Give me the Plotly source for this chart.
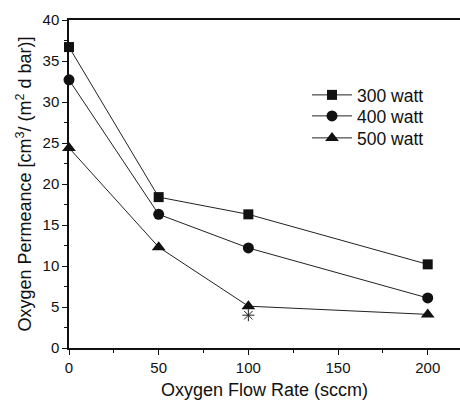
import plotly.graph_objects as go

flow = [0, 50, 100, 200]
p300 = [36.7, 18.4, 16.3, 10.2]
p400 = [32.7, 16.3, 12.2, 6.1]
p500 = [24.4, 12.3, 5.1, 4.1]
star_x = [100]
star_y = [4.0]
names = ["300 watt", "400 watt", "500 watt"]

FONT = "Liberation Sans, Arial, sans-serif"
PLOT_L, PLOT_T, PLOT_B = 69, 20, 348
legend_rows_px = [95, 116, 138]

fig = go.Figure()
legs = ["legend", "legend2", "legend3"]
for vals, name, sym, sz, lg in [(p300, names[0], "square", 10, legs[0]),
                                (p400, names[1], "circle", 11, legs[1]),
                                (p500, names[2], "triangle-up", 12, legs[2])]:
    fig.add_trace(go.Scatter(x=flow, y=vals, name=name, mode="lines+markers",
                             line=dict(color="#222", width=1),
                             marker=dict(symbol=sym, size=sz, color="#111"),
                             cliponaxis=False, legend=lg))
fig.add_trace(go.Scatter(x=star_x, y=star_y, mode="markers", showlegend=False,
                         marker=dict(symbol="asterisk-open", size=10, color="#222",
                                     line=dict(color="#222", width=1)),
                         cliponaxis=False))

leg_common = dict(xanchor="left", yanchor="middle", bgcolor="rgba(0,0,0,0)",
                  font=dict(size=17.5), itemwidth=40)
legx = (307 - PLOT_L) / (460 - PLOT_L)
layout_legs = {}
for lg, ypx in zip(legs, legend_rows_px):
    layout_legs[lg] = dict(leg_common, x=legx, y=(PLOT_B - ypx) / (PLOT_B - PLOT_T))

fig.update_layout(
    width=460, height=400,
    margin=dict(l=PLOT_L, r=0, t=PLOT_T, b=400 - PLOT_B),
    paper_bgcolor="white", plot_bgcolor="white",
    font=dict(family=FONT, color="#111", size=15),
    xaxis=dict(range=[0, 218], tickvals=[0, 50, 100, 150, 200],
               showline=True, linecolor="#111", linewidth=1.5, mirror=True,
               ticks="outside", ticklen=5, tickwidth=1.2, tickcolor="#111",
               minor=dict(tickvals=[25, 75, 125, 175], ticks="outside",
                          ticklen=3, tickcolor="#111", tickwidth=1),
               showgrid=False, zeroline=False,
               tickfont=dict(size=15),
               title=dict(text="Oxygen Flow Rate (sccm)", font=dict(size=18),
                          standoff=11)),
    yaxis=dict(range=[0, 40], tickvals=[0, 5, 10, 15, 20, 25, 30, 35, 40],
               showline=True, linecolor="#111", linewidth=1.5,
               ticks="outside", ticklen=5, tickwidth=1.2, tickcolor="#111",
               minor=dict(dtick=2.5, ticks="outside", ticklen=3,
                          tickcolor="#111", tickwidth=1),
               showgrid=False, zeroline=False,
               tickfont=dict(size=15),
               title=dict(text="Oxygen Permeance [cm<sup>3</sup>/ (m<sup>2</sup> d bar)]",
                          font=dict(size=18), standoff=6)),
    **layout_legs,
)
fig.write_html("out.html")
